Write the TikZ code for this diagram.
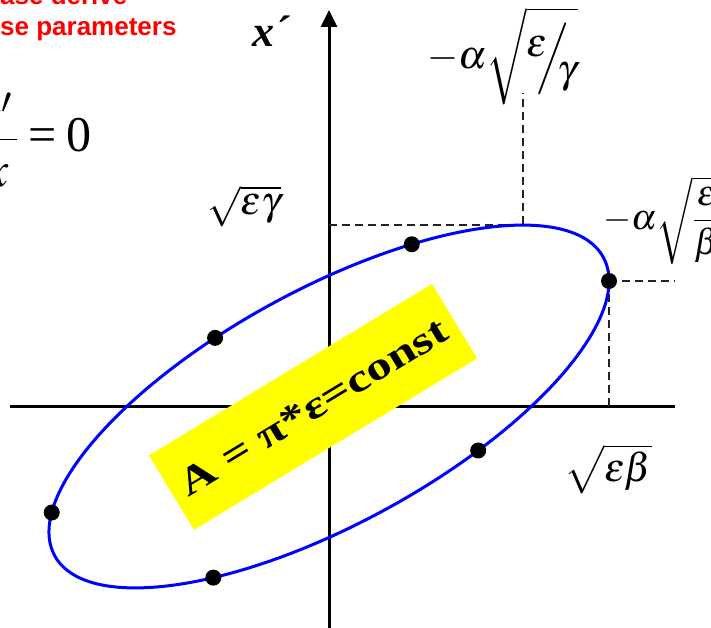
\documentclass[tikz,border=0pt]{standalone}
\usepackage{mathptmx}
\usepackage{fontspec}
\setmainfont{Liberation Serif}
\newfontfamily\notefont{Liberation Sans}
\usetikzlibrary{arrows.meta,positioning,calc}
\definecolor{orbitblue}{HTML}{0000FF}
\definecolor{notered}{HTML}{FF0000}
\definecolor{areayellow}{HTML}{FFFF00}
\definecolor{dimgray}{HTML}{222222}
\tikzset{
  axisline/.style={line width=3pt, draw=black},
  dimline/.style={line width=1.9pt, draw=dimgray, dash pattern=on 8pt off 5pt},
  orbit/.style={line width=3pt, draw=orbitblue},
  phasedot/.style={circle, fill=black, inner sep=0pt, minimum size=16pt},
  areabox/.style={
    rectangle,
    fill=areayellow,
    inner sep=0pt,
    minimum width=331pt,
    minimum height=87pt,
    font=\bfseries\fontsize{39}{45}\selectfont
  },
  mathlabel/.style={inner sep=0pt, font=\fontsize{40}{48}\selectfont},
  notetext/.style={inner sep=0pt, text=notered, font=\notefont\bfseries\fontsize{26}{31}\selectfont}
}
\begin{document}
\begin{tikzpicture}[x=1pt, y=1pt]
\useasboundingbox (-329,-220.5) rectangle (382,406.5);
\coordinate (o) at (0,0);
\coordinate (xmin) at (-319,0);
\coordinate (xmax) at (346,0);
\coordinate (ymin) at (0,-222);
\coordinate (ymax) at (0,396.5);
\coordinate (ctop) at ({280*cos(46.23)},{125.5*cos(46.23)+131*sin(46.23)});
\foreach \t [count=\i] in {0,72.8,114,172,-114.4,-57.8}
  \coordinate (c\i) at ({280*cos(\t)},{125.5*cos(\t)+131*sin(\t)});
% axes
\draw[axisline] (xmin) -- (xmax);
\draw[axisline, -{Triangle[length=17pt,width=16pt]}] (ymin) -- (ymax);
% dashed guides
\draw[dimline] (ctop -| o) -- (ctop) -- ([yshift=132pt]ctop);
\draw[dimline] (c1) -- (c1 -| xmax);
\draw[dimline] (c1) -- (c1 |- o);
% phase ellipse
\draw[orbit, rotate=28.54] (o) ellipse [x radius=312.27, y radius=117.46];
\node[areabox, rotate=31.2] (area) at (-16,-0.4) {\raisebox{-8pt}{\scalebox{1.3}[1]{A = π*ε=const}}\hspace{17pt}};
\foreach \i in {1,...,6}
  \node[phasedot] (p\i) at (c\i) {};
% labels
\node[notetext, anchor=base west] (notetop) at (-329,401.5) {ase derive};
\node[notetext, anchor=base west] (notebottom) at (-329,370.8) {se parameters};
\node[inner sep=0pt, font=\fontsize{50}{60}\selectfont, anchor=base east] (slope) at (-237.5,254.5) {$\displaystyle\frac{\raisebox{-20pt}{$x'$}\hspace{5pt}}{x}$\hspace{10pt}=\hspace{10pt}0};
\node[inner sep=0pt, anchor=base west, font=\fontsize{44}{52}\selectfont\bfseries\itshape] (xplabel) at (-77,359.5) {x´};
\node[mathlabel] (lblgamma) at (173.5,350.5) {$-\alpha\sqrt{\raisebox{.3em}{$\epsilon$}\mkern-5mu\Big/\mkern-5mu\raisebox{-.35em}{$\gamma$}}$};
\node[mathlabel, font=\fontsize{36}{44}\selectfont, anchor=west] (lblbeta) at (274,186) {$\displaystyle-\alpha\sqrt{\frac{\epsilon}{\beta}}$};
\node[mathlabel] (lblsqg) at (-84.5,200) {$\sqrt{\epsilon\gamma}$};
\node[mathlabel] (lblsqb) at (279,-62.5) {$\sqrt{\epsilon\beta}$};
\end{tikzpicture}
\end{document}
